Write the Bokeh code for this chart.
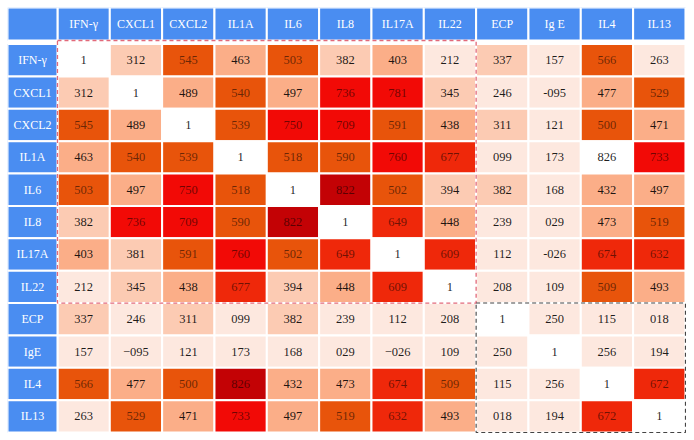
from bokeh.plotting import figure
from bokeh.models import Range1d, ColumnDataSource
from bokeh.core.properties import value
from bokeh.embed import file_html
from bokeh.resources import INLINE

# ---- data ----
row_labels = ["IFN-γ", "CXCL1", "CXCL2", "IL1A", "IL6", "IL8", "IL17A", "IL22", "ECP", "IgE", "IL4", "IL13"]
col_labels = ["IFN-γ", "CXCL1", "CXCL2", "IL1A", "IL6", "IL8", "IL17A", "IL22", "ECP", "Ig E", "IL4", "IL13"]

# correlation coefficients as printed (decimal point lost in the original)
r_ifng  = ["1", "312", "545", "463", "503", "382", "403", "212", "337", "157", "566", "263"]
r_cxcl1 = ["312", "1", "489", "540", "497", "736", "781", "345", "246", "-095", "477", "529"]
r_cxcl2 = ["545", "489", "1", "539", "750", "709", "591", "438", "311", "121", "500", "471"]
r_il1a  = ["463", "540", "539", "1", "518", "590", "760", "677", "099", "173", "826", "733"]
r_il6   = ["503", "497", "750", "518", "1", "822", "502", "394", "382", "168", "432", "497"]
r_il8   = ["382", "736", "709", "590", "822", "1", "649", "448", "239", "029", "473", "519"]
r_il17a = ["403", "381", "591", "760", "502", "649", "1", "609", "112", "-026", "674", "632"]
r_il22  = ["212", "345", "438", "677", "394", "448", "609", "1", "208", "109", "509", "493"]
r_ecp   = ["337", "246", "311", "099", "382", "239", "112", "208", "1", "250", "115", "018"]
r_ige   = ["157", "\u2212095", "121", "173", "168", "029", "\u2212026", "109", "250", "1", "256", "194"]
r_il4   = ["566", "477", "500", "826", "432", "473", "674", "509", "115", "256", "1", "672"]
r_il13  = ["263", "529", "471", "733", "497", "519", "632", "493", "018", "194", "672", "1"]
matrix = [r_ifng, r_cxcl1, r_cxcl2, r_il1a, r_il6, r_il8, r_il17a, r_il22, r_ecp, r_ige, r_il4, r_il13]

# cells left unshaded in the original figure (row, column)
unshaded = [("IL1A", "IL4")]

group_a = 8   # first 8 markers (red dashed block)
group_b = 4   # last 4 markers (black dashed block)

# ---- style ----
palette = ["#FDE8DF", "#FCCBB3", "#FBAE88", "#E8540B", "#EF280A", "#F20A06", "#C30205"]
bounds = [0.3, 0.4, 0.5, 0.6, 0.7, 0.8]
header_blue = "#4A8DF1"
font = value("Liberation Serif")


def parse(s):
    s = s.replace("\u2212", "-")
    if s == "1":
        return 1.0
    neg = s.startswith("-")
    v = float("0." + s.lstrip("-"))
    return -v if neg else v


n = len(row_labels)
xs, ys, txt, fills, talpha = [], [], [], [], []
for i, rl in enumerate(row_labels):
    for j, cl in enumerate(col_labels):
        s = matrix[i][j]
        v = parse(s)
        if v >= 1.0 or (rl, cl) in unshaded:
            c = "#FFFFFF"; lvl = -1
        else:
            lvl = sum(v >= b for b in bounds)
            c = palette[lvl]
        xs.append(j + 0.5)
        ys.append(i + 0.5)
        txt.append(s)
        fills.append(c)
        talpha.append(0.55 if lvl >= 3 else 0.88)

src = ColumnDataSource(dict(x=xs, y=ys, text=txt, fill=fills, ta=talpha))

hw = 0.955  # header column width (cell units)
hh = 1.02   # header row height
gap = 0.11

p = figure(width=686, height=433,
           x_range=Range1d(-hw, n + 0.02), y_range=Range1d(n + 0.03, -(hh + gap)),
           output_backend="svg", toolbar_location=None,
           min_border_left=7, min_border_top=7, min_border_right=0, min_border_bottom=0,
           x_axis_location=None, y_axis_location=None)
p.grid.visible = False
p.outline_line_color = None
p.background_fill_color = "white"
p.border_fill_color = "white"

# body cells
p.rect("x", "y", width=1, height=1, source=src, fill_color="fill",
       line_color="white", line_width=2)
p.text("x", "y", text="text", source=src, text_align="center", text_baseline="middle",
       text_font=font, text_font_size="12.5px", text_color="black", text_alpha="ta")

# headers
hy = -(gap + hh / 2)
hx = [j + 0.5 for j in range(n)]
p.rect(hx, [hy] * n, width=1, height=hh, fill_color=header_blue,
       line_color="white", line_width=2)
p.rect([-hw / 2] * n, [i + 0.5 for i in range(n)], width=hw, height=1,
       fill_color=header_blue, line_color="white", line_width=2)
p.rect([-hw / 2], [hy], width=hw, height=hh, fill_color=header_blue,
       line_color="white", line_width=2)
p.text(hx, [hy] * n, text=col_labels, text_align="center",
       text_baseline="middle", text_font=font, text_font_size="12px", text_color="white")
p.text([-hw / 2] * n, [i + 0.5 for i in range(n)], text=row_labels, text_align="center",
       text_baseline="middle", text_font=font, text_font_size="12px", text_color="white")

# dashed group boxes
p.quad(left=[0], right=[group_a], top=[-gap], bottom=[group_a], fill_color=None,
       line_color="#E2697A", line_width=1.3, line_dash="4 3")
p.quad(left=[group_a], right=[group_a + group_b], top=[group_a], bottom=[group_a + group_b],
       fill_color=None, line_color="#444444", line_width=1.1, line_dash="4 3")

open("out.html", "w").write(file_html(p, INLINE))
